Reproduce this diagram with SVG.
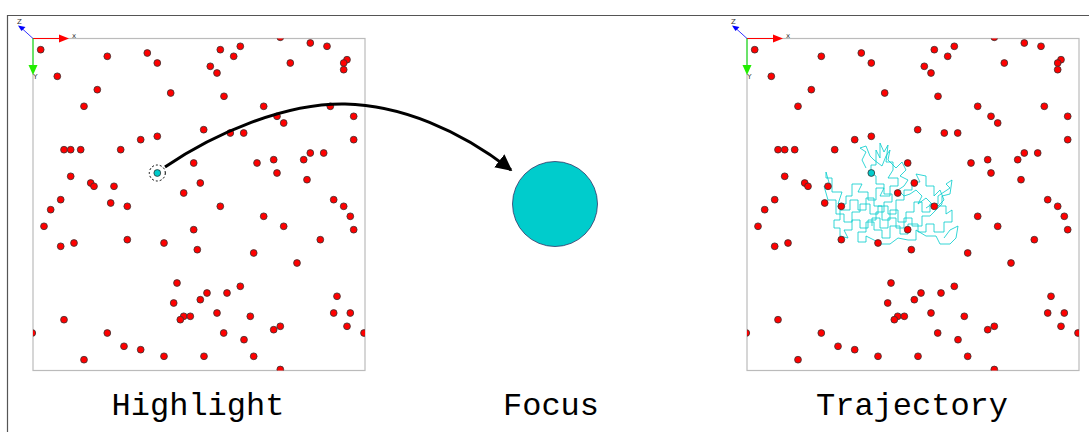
<svg xmlns="http://www.w3.org/2000/svg" xmlns:xlink="http://www.w3.org/1999/xlink" width="1089" height="432" viewBox="0 0 1089 432">
<style>
.frame{fill:none;stroke:#555;stroke-width:1.2}
.box{fill:#fff;stroke:#bbb;stroke-width:1.2}
.p{fill:#ff0000;stroke:#333;stroke-width:0.8}
.tracer{fill:#00cccc;stroke:#333;stroke-width:0.8}
.halo{fill:none;stroke:#000;stroke-width:1;stroke-dasharray:2 2}
.traj{fill:none;stroke:#00cccc;stroke-width:0.8;stroke-linejoin:miter}
.conn{fill:none;stroke:#000;stroke-width:3}
.label{font-family:"Liberation Mono","Courier New",monospace;font-size:32px;fill:#000;text-anchor:middle}
.axl{font-family:"DejaVu Sans",sans-serif;font-size:7px;fill:#333;text-anchor:middle}
</style>
<defs>
<clipPath id="clipBox"><rect x="33" y="38.5" width="332" height="332"/></clipPath>
<marker id="ah" viewBox="0 0 10 10" refX="9" refY="5" markerWidth="5.5" markerHeight="5.5" orient="auto" markerUnits="strokeWidth">
<path d="M0,0 L10,5 L0,10 z" fill="#000"/>
</marker>
<g id="particles">
<circle class="p" cx="40.7" cy="49.7" r="3.4"/>
<circle class="p" cx="107.3" cy="56.3" r="3.4"/>
<circle class="p" cx="147.3" cy="53" r="3.4"/>
<circle class="p" cx="157.3" cy="63" r="3.4"/>
<circle class="p" cx="220.3" cy="49.7" r="3.4"/>
<circle class="p" cx="240.3" cy="46.3" r="3.4"/>
<circle class="p" cx="233.7" cy="56.3" r="3.4"/>
<circle class="p" cx="210.3" cy="66.3" r="3.4"/>
<circle class="p" cx="217" cy="73" r="3.4"/>
<circle class="p" cx="280.3" cy="37.3" r="3.4"/>
<circle class="p" cx="310.3" cy="43" r="3.4"/>
<circle class="p" cx="327" cy="46.3" r="3.4"/>
<circle class="p" cx="290.3" cy="63" r="3.4"/>
<circle class="p" cx="347" cy="59.7" r="3.4"/>
<circle class="p" cx="343.7" cy="63" r="3.4"/>
<circle class="p" cx="343.7" cy="69.7" r="3.4"/>
<circle class="p" cx="57.3" cy="76.3" r="3.4"/>
<circle class="p" cx="97.3" cy="89.7" r="3.4"/>
<circle class="p" cx="84" cy="106.3" r="3.4"/>
<circle class="p" cx="170.7" cy="93" r="3.4"/>
<circle class="p" cx="224" cy="96.3" r="3.4"/>
<circle class="p" cx="263.7" cy="106.3" r="3.4"/>
<circle class="p" cx="330.3" cy="106.3" r="3.4"/>
<circle class="p" cx="353.7" cy="116.3" r="3.4"/>
<circle class="p" cx="277" cy="116.3" r="3.4"/>
<circle class="p" cx="283.7" cy="123" r="3.4"/>
<circle class="p" cx="203.7" cy="129.7" r="3.4"/>
<circle class="p" cx="230.3" cy="133" r="3.4"/>
<circle class="p" cx="243.7" cy="133" r="3.4"/>
<circle class="p" cx="140.7" cy="139.7" r="3.4"/>
<circle class="p" cx="157.3" cy="136.3" r="3.4"/>
<circle class="p" cx="353.7" cy="139.7" r="3.4"/>
<circle class="p" cx="64" cy="149.7" r="3.4"/>
<circle class="p" cx="70.7" cy="149.7" r="3.4"/>
<circle class="p" cx="80.7" cy="149.7" r="3.4"/>
<circle class="p" cx="120.7" cy="149.7" r="3.4"/>
<circle class="p" cx="310.3" cy="153" r="3.4"/>
<circle class="p" cx="323.7" cy="153" r="3.4"/>
<circle class="p" cx="303.7" cy="159.7" r="3.4"/>
<circle class="p" cx="273.7" cy="159.7" r="3.4"/>
<circle class="p" cx="257" cy="163" r="3.4"/>
<circle class="p" cx="193.7" cy="163" r="3.4"/>
<circle class="p" cx="277" cy="173" r="3.4"/>
<circle class="p" cx="70.7" cy="176.3" r="3.4"/>
<circle class="p" cx="90.7" cy="183" r="3.4"/>
<circle class="p" cx="94" cy="186.3" r="3.4"/>
<circle class="p" cx="114" cy="186.3" r="3.4"/>
<circle class="p" cx="200.3" cy="183" r="3.4"/>
<circle class="p" cx="307" cy="179.7" r="3.4"/>
<circle class="p" cx="183.7" cy="193" r="3.4"/>
<circle class="p" cx="60.7" cy="199.7" r="3.4"/>
<circle class="p" cx="110.7" cy="203" r="3.4"/>
<circle class="p" cx="127.3" cy="206.3" r="3.4"/>
<circle class="p" cx="220.3" cy="206.3" r="3.4"/>
<circle class="p" cx="333.7" cy="199.7" r="3.4"/>
<circle class="p" cx="343.7" cy="206.3" r="3.4"/>
<circle class="p" cx="350.3" cy="216.3" r="3.4"/>
<circle class="p" cx="353.7" cy="229.7" r="3.4"/>
<circle class="p" cx="50.7" cy="209.7" r="3.4"/>
<circle class="p" cx="44" cy="226.3" r="3.4"/>
<circle class="p" cx="263.7" cy="216.3" r="3.4"/>
<circle class="p" cx="283.7" cy="226.3" r="3.4"/>
<circle class="p" cx="193.7" cy="229.7" r="3.4"/>
<circle class="p" cx="60.7" cy="246.3" r="3.4"/>
<circle class="p" cx="74" cy="243" r="3.4"/>
<circle class="p" cx="127.3" cy="239.7" r="3.4"/>
<circle class="p" cx="164" cy="243" r="3.4"/>
<circle class="p" cx="197.3" cy="249.7" r="3.4"/>
<circle class="p" cx="320.3" cy="239.7" r="3.4"/>
<circle class="p" cx="253.7" cy="253" r="3.4"/>
<circle class="p" cx="297" cy="263" r="3.4"/>
<circle class="p" cx="177" cy="283" r="3.4"/>
<circle class="p" cx="240.3" cy="286.3" r="3.4"/>
<circle class="p" cx="227" cy="293" r="3.4"/>
<circle class="p" cx="207" cy="293" r="3.4"/>
<circle class="p" cx="200.3" cy="299.7" r="3.4"/>
<circle class="p" cx="173.7" cy="303" r="3.4"/>
<circle class="p" cx="337" cy="296.3" r="3.4"/>
<circle class="p" cx="183.7" cy="316.3" r="3.4"/>
<circle class="p" cx="180.3" cy="319.7" r="3.4"/>
<circle class="p" cx="190.3" cy="316.3" r="3.4"/>
<circle class="p" cx="217" cy="313" r="3.4"/>
<circle class="p" cx="250.3" cy="316.3" r="3.4"/>
<circle class="p" cx="333.7" cy="313" r="3.4"/>
<circle class="p" cx="350.3" cy="313" r="3.4"/>
<circle class="p" cx="64" cy="319.7" r="3.4"/>
<circle class="p" cx="347" cy="326.3" r="3.4"/>
<circle class="p" cx="280.3" cy="326.3" r="3.4"/>
<circle class="p" cx="273.7" cy="329.7" r="3.4"/>
<circle class="p" cx="223.7" cy="333" r="3.4"/>
<circle class="p" cx="107.3" cy="333" r="3.4"/>
<circle class="p" cx="32.3" cy="333" r="3.4"/>
<circle class="p" cx="364" cy="333" r="3.4"/>
<circle class="p" cx="244" cy="339.7" r="3.4"/>
<circle class="p" cx="124" cy="346.3" r="3.4"/>
<circle class="p" cx="140.7" cy="349.7" r="3.4"/>
<circle class="p" cx="164" cy="356.3" r="3.4"/>
<circle class="p" cx="204" cy="356.3" r="3.4"/>
<circle class="p" cx="253.7" cy="356.3" r="3.4"/>
<circle class="p" cx="84" cy="359.7" r="3.4"/>
<circle class="p" cx="280.3" cy="369.5" r="3.4"/>
</g>
<g id="axes">
<line x1="33" y1="38.5" x2="60" y2="38.5" stroke="#ff0000" stroke-width="1"/>
<path d="M59,34.5 L69,38.5 L59,42.5 z" fill="#ff0000"/>
<text class="axl" x="74" y="38">x</text>
<line x1="33" y1="38.5" x2="33" y2="66" stroke="#00ee00" stroke-width="1"/>
<path d="M28.5,65 L33,75 L37.5,65 z" fill="#22ee00"/>
<text class="axl" x="35.5" y="79">Y</text>
<line x1="33" y1="38.5" x2="22" y2="28.5" stroke="#0000ff" stroke-width="0.8"/>
<path d="M18,25.5 L25.5,27 L21.5,31 z" fill="#0000ff"/>
<text class="axl" x="19.5" y="24">Z</text>
</g>
</defs>

<g id="frame">
<path class="frame" d="M1089,15.5 L7.5,15.5 L7.5,432"/>
</g>

<g id="highlight-panel">
<rect class="box" x="33" y="38.5" width="332" height="332"/>
<g clip-path="url(#clipBox)"><use xlink:href="#particles"/></g>
<use xlink:href="#axes"/>
<circle class="tracer" cx="157.3" cy="173" r="3.4"/>
<circle class="halo" cx="157.3" cy="173" r="8"/>
</g>

<g id="focus-node">
<circle cx="555" cy="204" r="42.5" fill="#00cccc" stroke="#336" stroke-width="0.8"/>
</g>

<g id="trajectory-panel">
<g transform="translate(714,0)">
<rect class="box" x="33" y="38.5" width="332" height="332"/>
</g>
<polyline class="traj" points="871,173 871,165 876,165 876,150 880,158 880,143 884,152 888,145 886,162 893,162 893,170 888,178 898,178 898,186 890,186 890,196 880,196 884,188 876,188 876,200 868,200 868,192 858,192 862,184 852,184 852,196 846,196 846,204 838,204 842,192 832,192 832,178 826,178 826,172 830,186 824,186 828,200 836,200 836,214 844,214 844,222 852,222 852,212 860,212 860,204 870,204 870,214 878,214 878,206 888,206 888,214 896,214 896,200 904,200 904,190 912,190 912,182 920,182 916,174 926,176 926,186 934,186 934,196 940,190 944,200 938,206 946,206 946,214 952,210 952,222 944,222 944,232 934,232 934,224 926,224 926,232 918,232 918,224 908,224 908,234 900,234 900,226 890,226 890,238 882,238 882,230 874,230 874,222 866,222 866,232 858,232 858,242 866,242 866,236 874,240 880,244 890,244 898,238 908,240 916,240 916,230 926,236 936,236 940,244 950,244 956,238 958,226 950,230 944,238"/>
<polyline class="traj" points="871,173 876,176 876,184 884,184 884,194 892,194 892,202 884,202 884,212 876,212 876,220 868,220 868,228 860,228 860,220 852,220 852,230 844,230 848,238 840,236 840,228 834,228 834,220 840,220 840,210 850,210 850,200 858,200 858,210 866,210 866,198 874,198 874,206 882,206 882,220 890,220 890,210 898,210 898,222 906,222 906,212 914,212 914,202 922,202 922,212 930,212 930,204 938,204 938,196 944,192 950,188 946,184 952,180 950,194 942,196 942,204 930,216 922,216 922,226 912,226 912,218 904,218 904,228 896,228 896,218 888,218 888,228 880,228 880,218 872,218 872,226"/>
<polyline class="traj" points="866,168 862,160 866,152 860,148 866,146 870,156 874,160 882,166 886,156 890,150 888,160 896,168 902,162 906,170 900,176 908,180 904,186 898,190 904,196 910,194 916,190 922,196 918,204 926,198 932,204 926,208"/>
<g transform="translate(714,0)">
<g clip-path="url(#clipBox)"><use xlink:href="#particles"/></g>
<use xlink:href="#axes"/>
<circle class="tracer" cx="157.3" cy="173" r="3.4"/>
</g>
</g>

<g id="connectors">
<path class="conn" d="M165,167 C215,133 285,103 345,104 C400,105 460,130 511,170" marker-end="url(#ah)"/>
</g>

<g id="labels">
<text class="label" x="198" y="415">Highlight</text>
<text class="label" x="551" y="415">Focus</text>
<text class="label" x="912" y="415">Trajectory</text>
</g>
</svg>
